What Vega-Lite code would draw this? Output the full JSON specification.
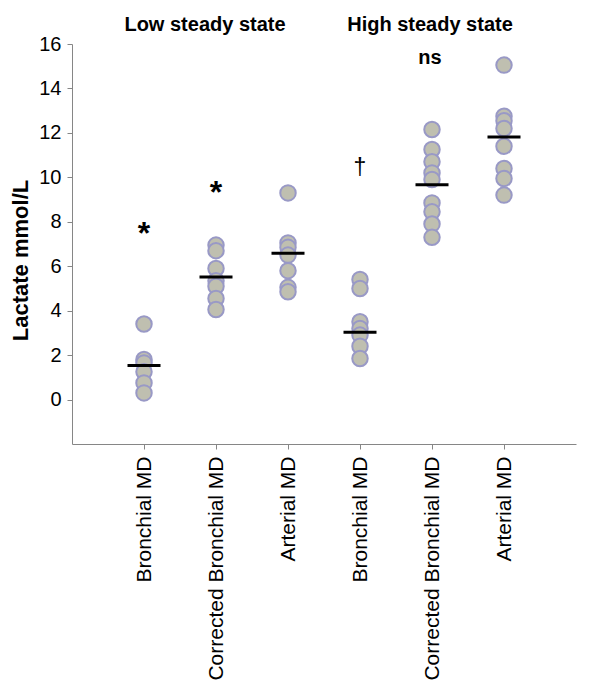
{
  "$schema": "https://vega.github.io/schema/vega-lite/v6.json",
  "width": 504,
  "height": 400,
  "autosize": {"type": "none"},
  "padding": {"left": 72, "top": 44, "right": 24, "bottom": 237},
  "background": "white",
  "config": {
    "view": {"stroke": null},
    "font": "Liberation Sans",
    "axis": {"grid": false}
  },
  "datasets": {
    "points": [
      {"cat": "L1 Bronchial MD", "value": 3.4},
      {"cat": "L1 Bronchial MD", "value": 1.8},
      {"cat": "L1 Bronchial MD", "value": 1.65},
      {"cat": "L1 Bronchial MD", "value": 1.25},
      {"cat": "L1 Bronchial MD", "value": 0.75},
      {"cat": "L1 Bronchial MD", "value": 0.3},
      {"cat": "L2 Corrected Bronchial MD", "value": 6.95},
      {"cat": "L2 Corrected Bronchial MD", "value": 6.7},
      {"cat": "L2 Corrected Bronchial MD", "value": 5.9},
      {"cat": "L2 Corrected Bronchial MD", "value": 5.35},
      {"cat": "L2 Corrected Bronchial MD", "value": 5.1},
      {"cat": "L2 Corrected Bronchial MD", "value": 4.55},
      {"cat": "L2 Corrected Bronchial MD", "value": 4.05},
      {"cat": "L3 Arterial MD", "value": 9.3},
      {"cat": "L3 Arterial MD", "value": 7.05},
      {"cat": "L3 Arterial MD", "value": 6.85},
      {"cat": "L3 Arterial MD", "value": 6.5},
      {"cat": "L3 Arterial MD", "value": 5.8},
      {"cat": "L3 Arterial MD", "value": 5.05},
      {"cat": "L3 Arterial MD", "value": 4.85},
      {"cat": "H1 Bronchial MD", "value": 5.4},
      {"cat": "H1 Bronchial MD", "value": 5.0},
      {"cat": "H1 Bronchial MD", "value": 3.5},
      {"cat": "H1 Bronchial MD", "value": 3.2},
      {"cat": "H1 Bronchial MD", "value": 2.9},
      {"cat": "H1 Bronchial MD", "value": 2.4},
      {"cat": "H1 Bronchial MD", "value": 1.85},
      {"cat": "H2 Corrected Bronchial MD", "value": 12.15},
      {"cat": "H2 Corrected Bronchial MD", "value": 11.25},
      {"cat": "H2 Corrected Bronchial MD", "value": 10.7},
      {"cat": "H2 Corrected Bronchial MD", "value": 10.2},
      {"cat": "H2 Corrected Bronchial MD", "value": 9.9},
      {"cat": "H2 Corrected Bronchial MD", "value": 8.85},
      {"cat": "H2 Corrected Bronchial MD", "value": 8.45},
      {"cat": "H2 Corrected Bronchial MD", "value": 7.9},
      {"cat": "H2 Corrected Bronchial MD", "value": 7.3},
      {"cat": "H3 Arterial MD", "value": 15.05},
      {"cat": "H3 Arterial MD", "value": 12.75},
      {"cat": "H3 Arterial MD", "value": 12.55},
      {"cat": "H3 Arterial MD", "value": 12.2},
      {"cat": "H3 Arterial MD", "value": 11.4},
      {"cat": "H3 Arterial MD", "value": 10.4},
      {"cat": "H3 Arterial MD", "value": 9.95},
      {"cat": "H3 Arterial MD", "value": 9.2}
    ],
    "means": [
      {"cat": "L1 Bronchial MD", "mean": 1.53},
      {"cat": "L2 Corrected Bronchial MD", "mean": 5.52},
      {"cat": "L3 Arterial MD", "mean": 6.58},
      {"cat": "H1 Bronchial MD", "mean": 3.03},
      {"cat": "H2 Corrected Bronchial MD", "mean": 9.67},
      {"cat": "H3 Arterial MD", "mean": 11.82}
    ],
    "stars": [
      {"cat": "L1 Bronchial MD", "y": 7.0, "label": "*"},
      {"cat": "L2 Corrected Bronchial MD", "y": 8.85, "label": "*"}
    ],
    "dagger": [
      {"cat": "H1 Bronchial MD", "y": 10.1, "label": "†"}
    ],
    "lowhdr": [
      {"cat": "L2 Corrected Bronchial MD", "y": 16.58, "label": "Low steady state"}
    ],
    "highhdr": [
      {"cat": "H2 Corrected Bronchial MD", "y": 16.58, "label": "High steady state"},
      {"cat": "H2 Corrected Bronchial MD", "y": 15.12, "label": "ns"}
    ]
  },
  "encoding": {
    "x": {
      "field": "cat",
      "type": "nominal",
      "sort": ["L1 Bronchial MD", "L2 Corrected Bronchial MD", "L3 Arterial MD", "H1 Bronchial MD", "H2 Corrected Bronchial MD", "H3 Arterial MD"],
      "scale": {"type": "point", "padding": 1},
      "axis": {
        "title": null,
        "labelExpr": "substring(datum.value, 3)",
        "labelAngle": 270,
        "labelFontSize": 21,
        "labelColor": "black",
        "labelPadding": 7,
        "tickSize": 5,
        "tickColor": "#868686",
        "domainColor": "#868686",
        "labelLimit": 300
      }
    }
  },
  "layer": [
    {
      "data": {"name": "points"},
      "mark": {"type": "circle", "size": 240, "fill": "#bfbfb0", "stroke": "#9999c6", "strokeWidth": 2, "opacity": 1, "fillOpacity": 1},
      "encoding": {
        "y": {
          "field": "value",
          "type": "quantitative",
          "scale": {"domain": [-2, 16], "nice": false, "zero": false},
          "axis": {
            "values": [0, 2, 4, 6, 8, 10, 12, 14, 16],
            "title": "Lactate mmol/L",
            "titleFontSize": 22,
            "titleFontWeight": "bold",
            "titleColor": "black",
            "titlePadding": 6,
            "titleY": 216,
            "labelFontSize": 20,
            "labelColor": "black",
            "labelPadding": 6,
            "tickSize": 5,
            "tickColor": "#868686",
            "domainColor": "#868686"
          }
        }
      }
    },
    {
      "data": {"name": "means"},
      "mark": {"type": "tick", "color": "black", "size": 33, "thickness": 3, "opacity": 1},
      "encoding": {
        "y": {"field": "mean", "type": "quantitative"}
      }
    },
    {
      "data": {"name": "stars"},
      "mark": {"type": "text", "fontSize": 32, "fontWeight": "bold", "baseline": "alphabetic", "color": "black"},
      "encoding": {
        "y": {"field": "y", "type": "quantitative"},
        "text": {"field": "label"}
      }
    },
    {
      "data": {"name": "dagger"},
      "mark": {"type": "text", "fontSize": 23, "baseline": "alphabetic", "color": "black"},
      "encoding": {
        "y": {"field": "y", "type": "quantitative"},
        "text": {"field": "label"}
      }
    },
    {
      "data": {"name": "lowhdr"},
      "mark": {"type": "text", "fontSize": 20, "fontWeight": "bold", "baseline": "alphabetic", "color": "black", "dx": -11},
      "encoding": {
        "y": {"field": "y", "type": "quantitative"},
        "text": {"field": "label"}
      }
    },
    {
      "data": {"name": "highhdr"},
      "mark": {"type": "text", "fontSize": 20, "fontWeight": "bold", "baseline": "alphabetic", "color": "black", "dx": -2},
      "encoding": {
        "y": {"field": "y", "type": "quantitative"},
        "text": {"field": "label"}
      }
    }
  ]
}
